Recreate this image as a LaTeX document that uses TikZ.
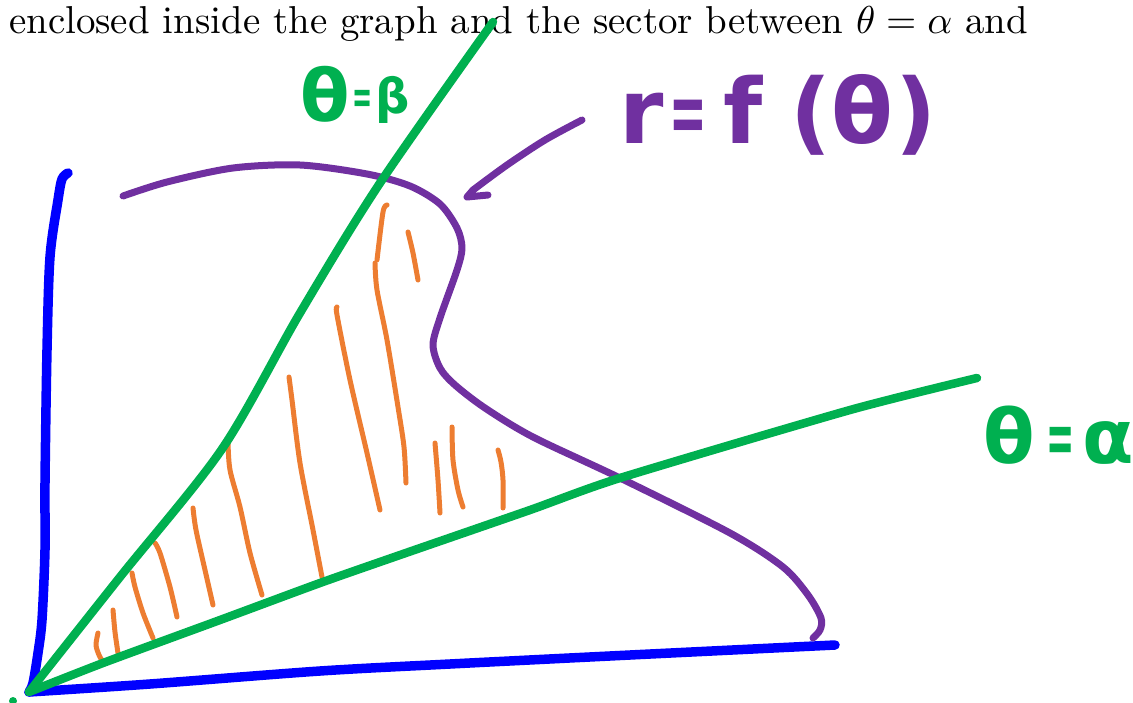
\documentclass[tikz,border=0pt]{standalone}
\usepackage{fontspec}
\usepackage{graphicx}
\newfontfamily\hand{DejaVu Sans}
\definecolor{pblue}{HTML}{0000FF}
\definecolor{pgreen}{HTML}{00B050}
\definecolor{ppurple}{HTML}{7030A0}
\definecolor{porange}{HTML}{ED7D31}
\tikzset{
  axisline/.style={draw=pblue, line width=9.5pt},
  rayline/.style={draw=pgreen, line width=8.5pt},
  curveline/.style={draw=ppurple, line width=7pt},
  hatchline/.style={draw=porange, line width=5pt},
  glabel/.style={text=pgreen, font=\hand\bfseries, inner sep=0pt},
  plabel/.style={text=ppurple, font=\hand\bfseries, inner sep=0pt},
}
\begin{document}
\begin{tikzpicture}[x=1pt,y=-1pt,line cap=round,line join=round]
\useasboundingbox (0,0) rectangle (1133,702);
\clip (0,0) rectangle (1133,702);

% top line of text
\node[anchor=base west, inner sep=0pt] (toptext) at (9,33)
  {\scalebox{3.89}{enclosed inside the graph and the sector between $\theta = \alpha$ and}};

% orange hatching
\draw[hatchline] plot[smooth] coordinates {(98,633) (96,645) (99,655) (103,662)};
\draw[hatchline] plot[smooth] coordinates {(113,610) (115,632) (118,653)};
\draw[hatchline] plot[smooth] coordinates {(132,573) (135,587) (143,613) (153,638)};
\draw[hatchline] plot[smooth] coordinates {(155,543) (160,553) (170,587) (177,617)};
\draw[hatchline] plot[smooth] coordinates {(193,508) (196,530) (205,570) (213,605)};
\draw[hatchline] plot[smooth] coordinates {(228,442) (230,470) (240,507) (250,553) (262,595)};
\draw[hatchline] plot[smooth] coordinates {(289,377) (292,400) (300,463) (313,530) (322,577)};
\draw[hatchline] plot[smooth] coordinates {(337,307) (337,315) (350,380) (367,453) (380,510)};
\draw[hatchline] plot[smooth] coordinates {(387,205) (383,212) (377,260)};
\draw[hatchline] plot[smooth] coordinates {(375,263) (377,290) (387,340) (398,407) (404,447) (406,483)};
\draw[hatchline] plot[smooth] coordinates {(408,232) (413,253) (418,280)};
\draw[hatchline] plot[smooth] coordinates {(435,443) (438,480) (440,513)};
\draw[hatchline] plot[smooth] coordinates {(452,427) (453,460) (458,490) (463,507)};
\draw[hatchline] plot[smooth] coordinates {(498,450) (501,462) (503,480) (503,508)};

% axes
\coordinate (origin) at (29,692);
\draw[axisline] plot[smooth] coordinates {(68,173) (62,179) (58,200) (50,257) (47,350) (45,483) (45,550) (42,620) (38,653) (33,683) (origin)};
\draw[axisline] plot[smooth] coordinates {(origin) (150,684) (320,671) (450,664) (630,655) (835,645)};

% polar curve r = f(theta)
\draw[curveline] plot[smooth] coordinates {(123,196) (167,182) (233,168) (300,165) (367,174) (410,186) (440,204) (457,228) (462,248) (457,270) (440,318) (433,345) (440,368) (455,385) (485,408) (533,437) (620,478) (730,533) (783,567) (808,595) (821,618) (820,630) (813,638)};

% rays
\draw[rayline] plot[smooth, tension=0.5] coordinates {(origin) (120,577) (222,449) (300,313) (380,183) (493,22)};
\draw[rayline] plot[smooth, tension=0.4] coordinates {(origin) (103,663) (220,620) (320,583) (400,555) (530,510) (620,478) (850,410) (977,378)};
\fill[pgreen] (13,701) circle (4);

% labels
\node[glabel, anchor=base west] (lbeta) at (300,121)
  {\fontsize{72}{72}\selectfont θ\hspace{3pt}\raisebox{8pt}{\fontsize{48}{48}\selectfont\scalebox{0.5}[1]{=}\hspace{3pt}β}};
\node[plabel, anchor=base west] (lcurve) at (619,143)
  {\fontsize{90}{90}\selectfont r\hspace{6pt}\scalebox{0.5}[1]{=}\hspace{16pt}f\hspace{28pt}(θ\hspace{2pt})};
\node[glabel, anchor=base west] (lalpha) at (983,463)
  {\fontsize{75}{75}\selectfont θ\hspace{12pt}\scalebox{0.45}[1]{=}\hspace{7pt}α};

% arrow from label to curve
\coordinate (arrstart) at (582,120);
\coordinate (arrtip) at (467,197);
\draw[curveline] plot[smooth] coordinates {(arrstart) (545,140) (507,165) (473,190)} -- (arrtip) -- (488,195);
\end{tikzpicture}
\end{document}
